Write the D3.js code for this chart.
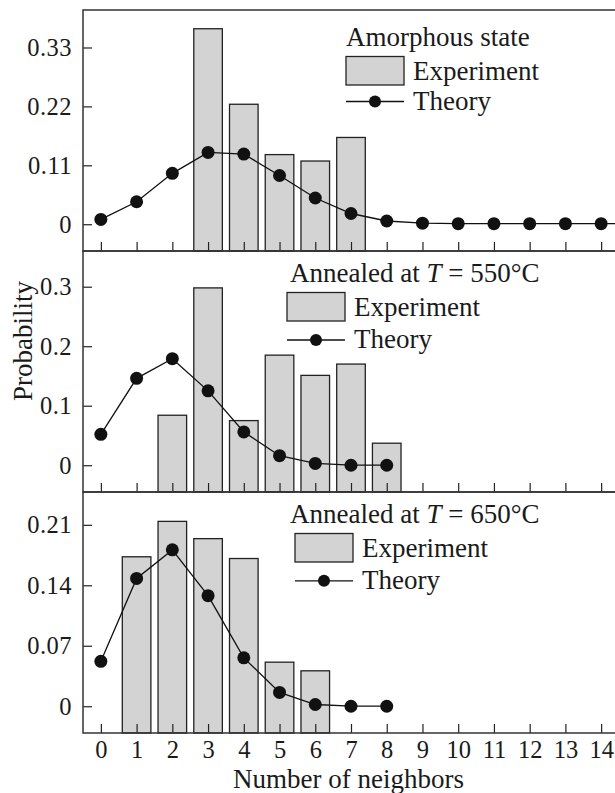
<!DOCTYPE html>
<html>
<head>
<meta charset="utf-8">
<script src="https://cdn.jsdelivr.net/npm/d3@7"></script>
<style>
  html, body { margin: 0; padding: 0; background: #fff; }
  svg { display: block; }
  text { font-family: 'Liberation Serif', 'Times New Roman', serif; fill: #1a1a1a; }
</style>
</head>
<body>
<div id="chart"></div>
<script>
// ── Neighbor-count distributions, three annealing states ──

const xTicks = d3.range(0, 15);

// Amorphous state
const amorphExpN = [3, 4, 5, 6, 7];
const amorphExp = [0.365, 0.224, 0.130, 0.118, 0.162];
const amorphTheoryN = d3.range(0, 16);
const amorphTheory = [0.009, 0.042, 0.095, 0.134, 0.131, 0.091, 0.049, 0.020,
                      0.006, 0.002, 0.001, 0.001, 0.001, 0.001, 0.001, 0.001];
const amorphYTicks = [0, 0.11, 0.22, 0.33];

// Annealed at 550 °C
const a550ExpN = [2, 3, 4, 5, 6, 7, 8];
const a550Exp = [0.084, 0.298, 0.075, 0.185, 0.151, 0.170, 0.037];
const a550TheoryN = d3.range(0, 9);
const a550Theory = [0.052, 0.146, 0.179, 0.125, 0.056, 0.016, 0.003, 0.000, 0.000];
const a550YTicks = [0, 0.1, 0.2, 0.3];

// Annealed at 650 °C
const a650ExpN = [1, 2, 3, 4, 5, 6];
const a650Exp = [0.173, 0.214, 0.194, 0.171, 0.051, 0.041];
const a650TheoryN = d3.range(0, 9);
const a650Theory = [0.052, 0.148, 0.181, 0.128, 0.056, 0.016, 0.002, 0.000, 0.000];
const a650YTicks = [0, 0.07, 0.14, 0.21];

const W = 615, H = 793;
const left = 83, right = 619;

const svg = d3.select('#chart').append('svg')
    .attr('width', W)
    .attr('height', H);

const x = d3.scaleLinear().domain([-0.5, 14.5]).range([left, right]);
const barW = x(0.8) - x(0);

const panels = [
    { top: 10, bottom: 251, yDomain: [-0.05, 0.40], yTicks: amorphYTicks,
      expN: amorphExpN, exp: amorphExp, thN: amorphTheoryN, th: amorphTheory,
      legend: { x: 346, tx: 346, titleY: 46, lineGap: 45, title: ['Amorphous state'] } },
    { top: 251, bottom: 492, yDomain: [-0.045, 0.36], yTicks: a550YTicks,
      expN: a550ExpN, exp: a550Exp, thN: a550TheoryN, th: a550Theory,
      legend: { x: 287, tx: 290, titleY: 282, lineGap: 47.5, title: ['Annealed at ', 'T', ' = 550°C'] } },
    { top: 492, bottom: 733, yDomain: [-0.031, 0.248], yTicks: a650YTicks,
      expN: a650ExpN, exp: a650Exp, thN: a650TheoryN, th: a650Theory,
      legend: { x: 295, tx: 290, titleY: 523, lineGap: 47.3, title: ['Annealed at ', 'T', ' = 650°C'] } }
];

panels.forEach((p, i) => {
    const y = d3.scaleLinear().domain(p.yDomain).range([p.bottom, p.top]);
    const g = svg.append('g');

    // Experiment bars
    g.append('g')
        .selectAll('rect')
        .data(p.expN.map((n, k) => ({ n, v: p.exp[k] })))
        .join('rect')
        .attr('x', d => x(d.n) - barW / 2)
        .attr('y', d => y(d.v))
        .attr('width', barW)
        .attr('height', d => p.bottom - y(d.v))
        .attr('fill', '#d3d3d3')
        .attr('stroke', '#222')
        .attr('stroke-width', 1.3);

    // Theory line + markers
    const th = p.thN.map((n, k) => ({ n, v: p.th[k] }));
    g.append('path')
        .datum(th)
        .attr('fill', 'none')
        .attr('stroke', '#111')
        .attr('stroke-width', 1.3)
        .attr('d', d3.line().x(d => x(d.n)).y(d => y(d.v)));
    g.append('g')
        .selectAll('circle')
        .data(th)
        .join('circle')
        .attr('cx', d => x(d.n))
        .attr('cy', d => y(d.v))
        .attr('r', 6.5)
        .attr('fill', '#111');

    // Axes (inward ticks)
    const yAxis = d3.axisLeft(y)
        .tickValues(p.yTicks)
        .tickFormat(d => d === 0 ? '0' : String(d))
        .tickSizeInner(-9)
        .tickSizeOuter(0)
        .tickPadding(11);
    const ya = g.append('g').attr('transform', `translate(${left},0)`).call(yAxis);

    const xAxis = d3.axisBottom(x)
        .tickValues(xTicks)
        .tickSizeInner(-9)
        .tickSizeOuter(0)
        .tickPadding(8)
        .tickFormat(i === 2 ? d3.format('d') : () => '');
    const xa = g.append('g').attr('transform', `translate(0,${p.bottom})`).call(xAxis);

    [ya, xa].forEach(a => {
        a.select('.domain').remove();
        a.selectAll('line').attr('stroke', '#222').attr('stroke-width', 1.2);
        a.selectAll('text')
            .attr('font-family', "'Liberation Serif', serif")
            .attr('font-size', 24.5)
            .attr('fill', '#1a1a1a');
    });
    ya.selectAll('text').attr('letter-spacing', 0.5);

    // Frame
    g.append('rect')
        .attr('x', left)
        .attr('y', p.top)
        .attr('width', right - left)
        .attr('height', p.bottom - p.top)
        .attr('fill', 'none')
        .attr('stroke', '#333')
        .attr('stroke-width', 1.5);

    // Legend
    const L = p.legend;
    const title = g.append('text')
        .attr('x', L.tx)
        .attr('y', L.titleY)
        .attr('font-size', 27);
    L.title.forEach(t => {
        title.append('tspan')
            .attr('font-style', t === 'T' ? 'italic' : 'normal')
            .text(t);
    });
    const ry = L.titleY + 10.5;
    g.append('rect')
        .attr('x', L.x)
        .attr('y', ry)
        .attr('width', 58)
        .attr('height', 28.5)
        .attr('fill', '#d3d3d3')
        .attr('stroke', '#222')
        .attr('stroke-width', 1.3);
    g.append('text')
        .attr('x', L.x + 67)
        .attr('y', ry + 23)
        .attr('font-size', 27)
        .text('Experiment');
    const ly = ry + L.lineGap;
    g.append('line')
        .attr('x1', L.x).attr('x2', L.x + 58)
        .attr('y1', ly).attr('y2', ly)
        .attr('stroke', '#111')
        .attr('stroke-width', 1.3);
    g.append('circle')
        .attr('cx', L.x + 29)
        .attr('cy', ly)
        .attr('r', 6)
        .attr('fill', '#111');
    g.append('text')
        .attr('x', L.x + 67)
        .attr('y', ly + 8)
        .attr('font-size', 27)
        .text('Theory');
});

// Axis titles
svg.append('text')
    .attr('x', (left + 614) / 2)
    .attr('y', 788)
    .attr('text-anchor', 'middle')
    .attr('font-size', 27)
    .text('Number of neighbors');

svg.append('text')
    .attr('transform', 'translate(32,341) rotate(-90)')
    .attr('text-anchor', 'middle')
    .attr('font-size', 27)
    .text('Probability');
</script>
</body>
</html>
